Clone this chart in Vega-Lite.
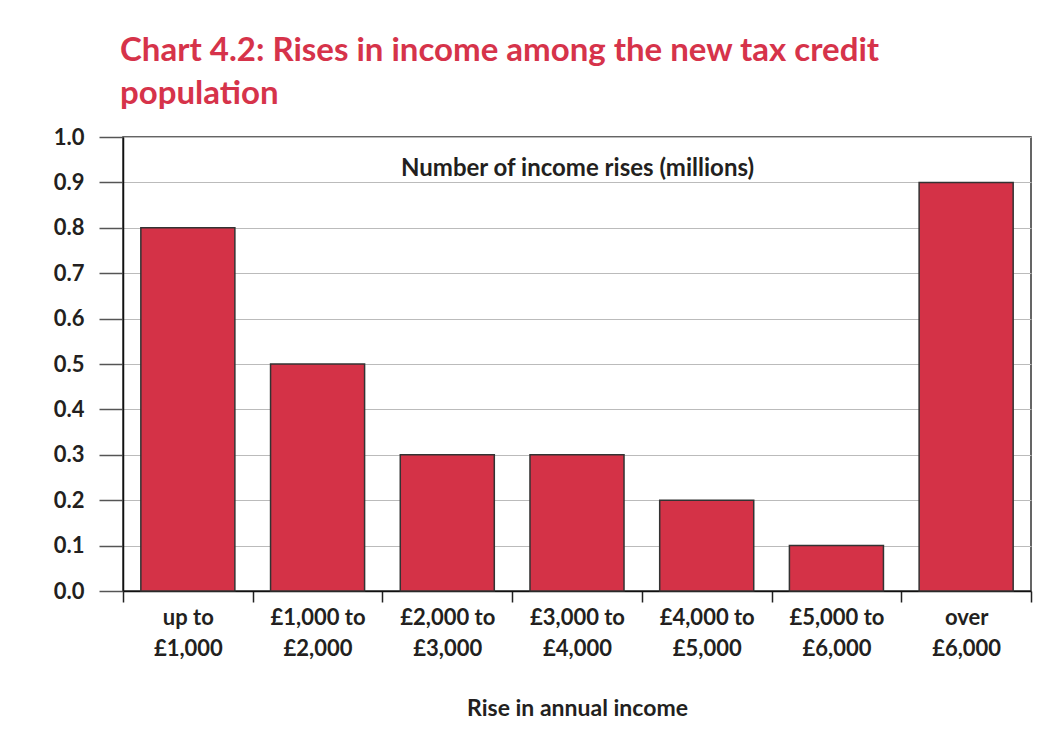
{
  "$schema": "https://vega.github.io/schema/vega-lite/v6.json",
  "width": 908,
  "height": 454,
  "autosize": "none",
  "padding": {"left": 123, "top": 137, "right": 20, "bottom": 138},
  "background": "white",
  "title": {
    "text": ["Chart 4.2: Rises in income among the new tax credit", "population"],
    "anchor": "start",
    "frame": "group",
    "font": "Lato",
    "fontSize": 33,
    "fontWeight": "bold",
    "color": "#d6334a",
    "lineHeight": 43,
    "offset": 15,
    "dx": -3
  },
  "data": {
    "values": [
      {"band": "up to|£1,000", "rises": 0.8},
      {"band": "£1,000 to|£2,000", "rises": 0.5},
      {"band": "£2,000 to|£3,000", "rises": 0.3},
      {"band": "£3,000 to|£4,000", "rises": 0.3},
      {"band": "£4,000 to|£5,000", "rises": 0.2},
      {"band": "£5,000 to|£6,000", "rises": 0.1},
      {"band": "over|£6,000", "rises": 0.9}
    ]
  },
  "mark": {
    "type": "bar",
    "fill": "#d43247",
    "stroke": "#333333",
    "strokeWidth": 1.5,
    "width": {"band": 0.725}
  },
  "encoding": {
    "x": {
      "field": "band",
      "type": "nominal",
      "sort": null,
      "scale": {"paddingInner": 0, "paddingOuter": 0},
      "axis": {
        "title": "Rise in annual income",
        "labelAngle": 0,
        "labelExpr": "split(datum.label, '|')",
        "labelLineHeight": 31,
        "labelPadding": 5,
        "tickBand": "extent",
        "tickSize": 11,
        "tickColor": "#222222",
        "tickWidth": 1.5,
        "domainColor": "#111111",
        "domainWidth": 1.5,
        "titleFontSize": 23,
        "titlePadding": 38
      }
    },
    "y": {
      "field": "rises",
      "type": "quantitative",
      "scale": {"domain": [0, 1]},
      "axis": {
        "values": [0, 0.1, 0.2, 0.3, 0.4, 0.5, 0.6, 0.7, 0.8, 0.9, 1.0],
        "format": ".1f",
        "tickSize": 24,
        "tickColor": "#555555",
        "tickWidth": 1.5,
        "labelPadding": 15,
        "domainColor": "#111111",
        "domainWidth": 1.5,
        "grid": true,
        "gridColor": "#bbbbbb",
        "title": "Number of income rises (millions)",
        "titleAngle": 0,
        "titleX": 454,
        "titleY": 31,
        "titleAlign": "center",
        "titleBaseline": "middle",
        "titleFontSize": 24
      }
    }
  },
  "config": {
    "view": {"stroke": "#333333", "strokeWidth": 1.5},
    "axis": {
      "labelFont": "Lato",
      "labelFontSize": 22,
      "labelFontWeight": "bold",
      "labelColor": "#231f20",
      "titleFont": "Lato",
      "titleFontSize": 21,
      "titleFontWeight": "bold",
      "titleColor": "#231f20",
      "labelFlush": false
    }
  }
}
